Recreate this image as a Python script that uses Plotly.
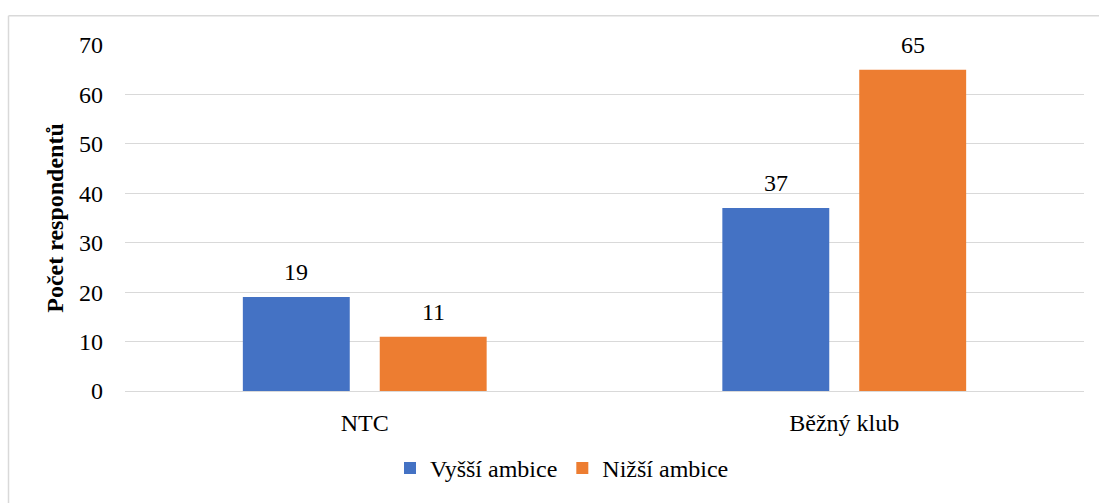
import plotly.graph_objects as go

# Data
categories = ["NTC", "Běžný klub"]
series_names = ["Vyšší ambice", "Nižší ambice"]
vyssi = [19, 37]
nizsi = [11, 65]
colors = ["#4472C4", "#ED7D31"]

W, H = 1099, 503
L, R, T, B = 125, 15, 45, 109
pw, ph = W - L - R, H - T - B

def px_x(x):
    return (x - L) / pw

def px_y(y):
    return (H - B - y) / ph

font = "Liberation Serif, Times New Roman, serif"

fig = go.Figure()
for name, vals, col in zip(series_names, [vyssi, nizsi], colors):
    fig.add_trace(go.Bar(
        x=categories, y=vals, name=name,
        marker=dict(color=col, line=dict(width=0)),
    ))

# value labels above bars
shifts = [-68.5, 68.5]
for vals, xs in zip([vyssi, nizsi], shifts):
    for cat, v in zip(categories, vals):
        fig.add_annotation(x=cat, y=v, text=str(v), showarrow=False,
                           xshift=xs, yshift=25, yanchor="middle",
                           font=dict(family=font, size=24, color="#000000"))

fig.update_layout(
    width=W, height=H,
    margin=dict(l=L, r=R, t=T, b=B),
    paper_bgcolor="white", plot_bgcolor="white",
    font=dict(family=font, size=24, color="#000000"),
    barmode="group", bargap=0.429, bargroupgap=0.219,
    showlegend=True,
    legend=dict(orientation="h", x=px_x(562), xanchor="center",
                y=px_y(472), yanchor="middle",
                font=dict(family=font, size=24), itemwidth=30,
                traceorder="normal"),
    xaxis=dict(showgrid=False, showline=True, linecolor="#d9d9d9", linewidth=1,
               ticks="", tickfont=dict(family=font, size=24),
               ticklabelstandoff=10),
    yaxis=dict(range=[0, 70], dtick=10, showgrid=True, gridcolor="#d9d9d9",
               gridwidth=1, zeroline=False, ticks="",
               tickfont=dict(family=font, size=24), ticklabelstandoff=21,
               title=dict(text="<b>Počet respondentů</b>",
                          font=dict(family=font, size=24), standoff=8)),
    shapes=[
        dict(type="line", xref="paper", yref="paper",
             x0=px_x(8.5), x1=px_x(1110), y0=px_y(15.5), y1=px_y(15.5),
             line=dict(color="#d9d9d9", width=1.5)),
        dict(type="line", xref="paper", yref="paper",
             x0=px_x(8.5), x1=px_x(8.5), y0=px_y(15.5), y1=px_y(520),
             line=dict(color="#d9d9d9", width=1.5)),
    ],
)

fig.write_html("out.html", config={"displayModeBar": False},
               post_script="document.body.style.margin='0';")
